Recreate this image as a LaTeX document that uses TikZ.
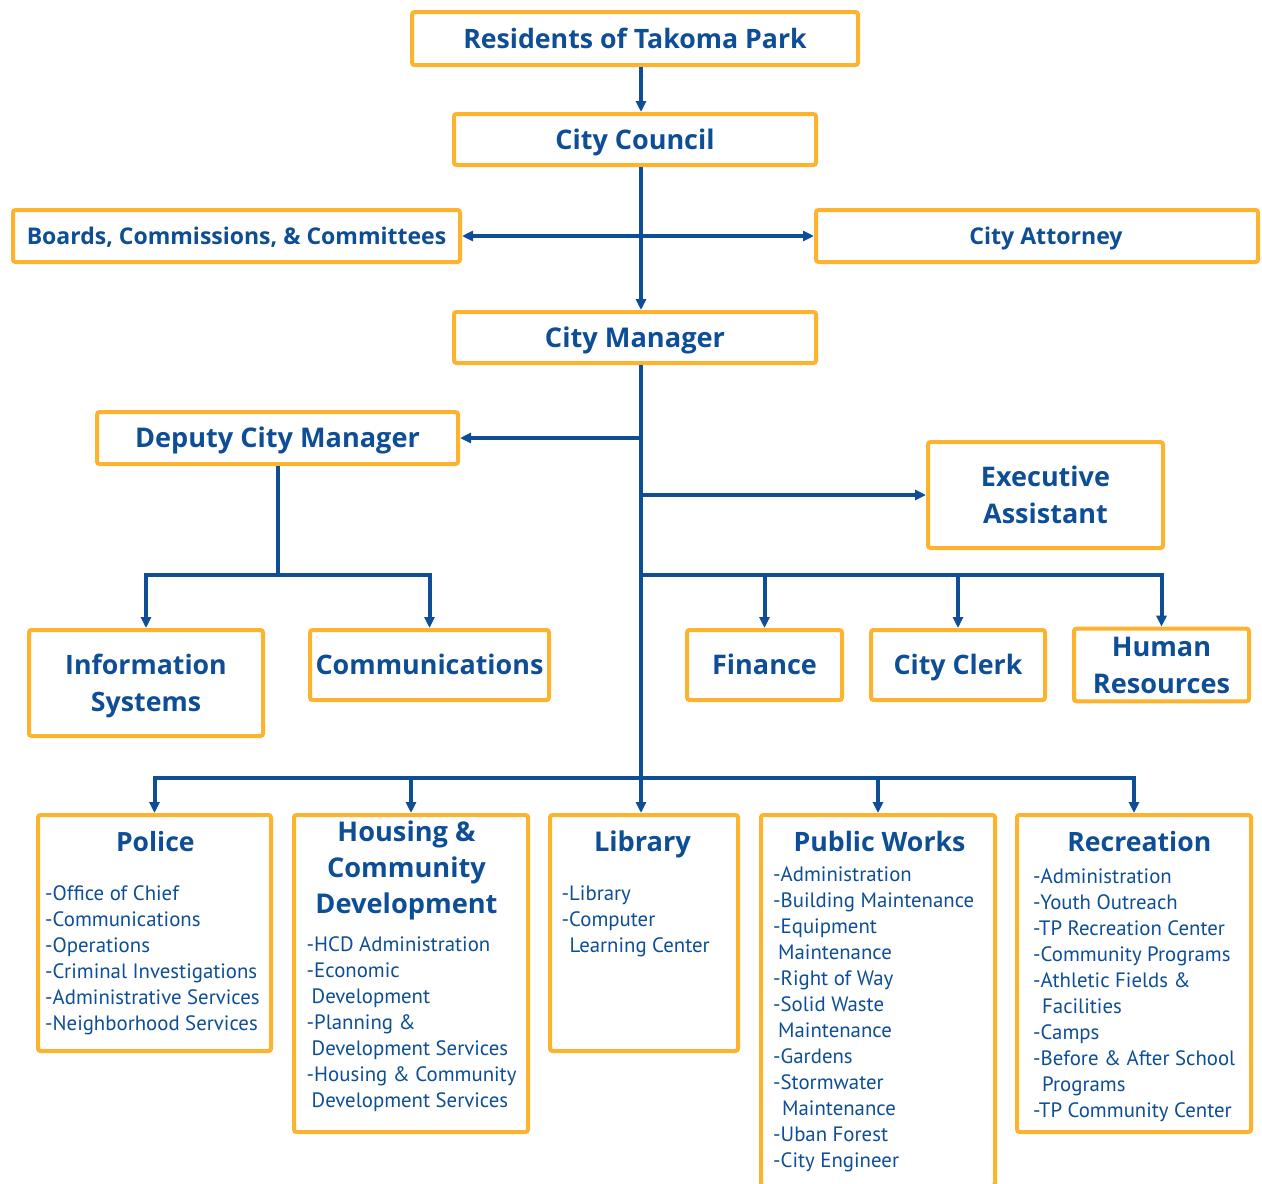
\documentclass[tikz,border=0pt]{standalone}
\usepackage{fontspec}
\setmainfont{PT Sans}
\newfontfamily\hdfont{Open Sans}
\usetikzlibrary{arrows.meta}

\definecolor{boxline}{HTML}{FDB32E}
\definecolor{navy}{HTML}{0D4E96}

\newcommand{\fsz}[2]{\fontsize{#1}{#2}\selectfont}
% two-line box text, balanced around the caps of both lines
\newcommand{\twol}[2]{\rule{0pt}{27.6pt}#1\\#2\rule[-8pt]{0pt}{8pt}}

\tikzset{
  box/.style={draw=boxline, line width=4pt, rounded corners=2.5pt, fill=white,
    inner sep=0pt, text=navy, align=center},
  sb/.style={box, font=\hdfont\bfseries\fsz{#1}{#1}, text height={#1*0.714pt}, text depth=0pt},
  tb/.style={box, font=\hdfont\bfseries\fsz{#1}{37}},
  unit/.style={box},
  ln/.style={draw=navy, line width=4pt},
  arr/.style={ln, -{Triangle[length=11pt,width=10pt]}},
  darr/.style={ln, {Triangle[length=11pt,width=10pt]}-{Triangle[length=11pt,width=10pt]}},
  head/.style={anchor=base, inner sep=0pt, text=navy, font=\hdfont\bfseries\fsz{#1}{36}, align=center},
  headm/.style={anchor=north, inner sep=0pt, text=navy, font=\hdfont\bfseries\fsz{#1}{36}, align=center},
  items/.style={anchor=north west, inner sep=0pt, text=navy, font=\fsz{20.8}{26}, align=left},
}

\begin{document}
\begin{tikzpicture}[x=1pt,y=-1pt]
\useasboundingbox (0,0) rectangle (1262,1184);

% governance chain
\node[sb=26.7, minimum width=446, minimum height=53] (res) at (635,38.5) {Residents of Takoma Park};
\node[sb=27, minimum width=362, minimum height=51] (council) at (635,139.5) {City Council};
\node[sb=23, minimum width=447, minimum height=52] (boards) at (236.5,236) {Boards, Commissions, \& Committees};
\node[sb=23.1, minimum width=442, minimum height=52] (attorney) at (1037,236) {\hspace*{18pt}City Attorney};
\node[sb=27.2, minimum width=362, minimum height=51] (manager) at (635,337.5) {City Manager};

% manager's office
\node[sb=27.1, minimum width=361, minimum height=52] (deputy) at (277.5,438) {Deputy City Manager};
\node[tb=27, minimum width=235, minimum height=106] (exec) at (1045.5,495) {\twol{Executive}{Assistant}};
\node[tb=26.7, minimum width=234, minimum height=106] (infosys) at (146,683) {\twol{Information}{Systems}};
\node[sb=26.9, minimum width=239, minimum height=70] (comms) at (429.5,665) {Communications};
\node[sb=27, minimum width=155, minimum height=70] (finance) at (764.5,665) {Finance};
\node[sb=26.8, minimum width=174, minimum height=70] (clerk) at (958,665) {City Clerk};
\node[tb=27.1, minimum width=175, minimum height=70] (hr) at (1161.5,665) {\twol{Human}{Resources}};

% departments
\node[unit, minimum width=233, minimum height=236] (police) at (154.5,933) {};
\node[unit, minimum width=234, minimum height=317] (housing) at (411,973.5) {};
\node[unit, minimum width=188, minimum height=236] (library) at (644,933) {};
\node[unit, minimum width=234, minimum height=371] (pworks) at (878,1000.5) {};
\node[unit, minimum width=234, minimum height=317] (rec) at (1134,973.5) {};

\node[head=26.5] (policeh) at (155.3,851.7) {Police};
\node[headm=27.2] (housingh) at (406.5,817.7) {\rule{0pt}{24pt}Housing \&\\Community\\Development};
\node[head=27.2] (libraryh) at (642.5,851.7) {Library};
\node[head=26.7] (pworksh) at (879.5,851.7) {Public Works};
\node[head=26.6] (rech) at (1139.3,851.7) {Recreation};

\node[items] (policel) at (45,880) {\rule{0pt}{20pt}-Office of Chief\\-Communications\\-Operations\\-Criminal Investigations\\-Administrative Services\\-Neighborhood Services};
\node[items] (housingl) at (306.5,931.7) {\rule{0pt}{20pt}-HCD Administration\\-Economic\\\hspace*{5pt}Development\\-Planning \&\\\hspace*{5pt}Development Services\\-Housing \& Community\\\hspace*{5pt}Development Services};
\node[items] (libraryl) at (561.5,880) {\rule{0pt}{20pt}-Library\\-Computer\\\hspace*{8pt}Learning Center};
\node[items] (pworksl) at (773,861.7) {\rule{0pt}{20pt}-Administration\\-Building Maintenance\\-Equipment\\\hspace*{5pt}Maintenance\\-Right of Way\\-Solid Waste\\\hspace*{5pt}Maintenance\\-Gardens\\-Stormwater\\\hspace*{9pt}Maintenance\\-Uban Forest\\-City Engineer};
\node[items] (recl) at (1033,863) {\rule{0pt}{20pt}-Administration\\-Youth Outreach\\-TP Recreation Center\\-Community Programs\\-Athletic Fields \&\\\hspace*{9pt}Facilities\\-Camps\\-Before \& After School\\\hspace*{9pt}Programs\\-TP Community Center};

% connector junctions
\coordinate (sp) at (641,0);
\coordinate (rb) at (641,575);
\coordinate (lb) at (deputy.south |- rb);
\coordinate (bb) at (641,778);

% connectors
\draw[arr] (res.south -| sp) -- (council.north -| sp);
\draw[arr] (council.south -| sp) -- (manager.north -| sp);
\draw[darr] (boards.east) -- (attorney.west);
\draw[arr] (manager.south -| sp) -- (library.north -| sp);
\draw[arr] (sp |- deputy.east) -- (deputy.east);
\draw[arr] (sp |- exec.west) -- (exec.west);
\draw[arr] (rb) -| (finance.north);
\draw[arr] (rb) -| (clerk.north);
\draw[arr] (rb) -| (hr.north);
\draw[ln] (deputy.south) -- (lb);
\draw[arr] (lb) -| (infosys.north);
\draw[arr] (lb) -| (comms.north);
\draw[arr] (bb) -| (police.north);
\draw[arr] (bb) -| (housing.north);
\draw[arr] (bb) -| (pworks.north);
\draw[arr] (bb) -| (rec.north);
\end{tikzpicture}
\end{document}
